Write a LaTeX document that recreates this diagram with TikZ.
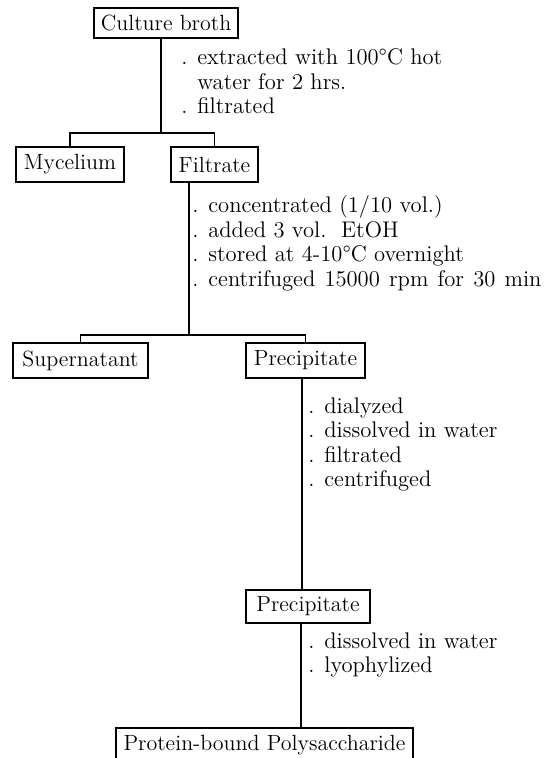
\documentclass[tikz,border=0pt]{standalone}
\usepackage{tikz}
\begin{document}
\begin{tikzpicture}[x=0.5pt,y=-0.5pt,
  stepbox/.style={draw, line width=0.6pt, inner sep=0pt, align=center, font=\fontsize{11}{13}\selectfont},
  note/.style={anchor=base west, align=left, inner sep=0pt, font=\fontsize{11.3}{12.25}\selectfont},
  conn/.style={line width=0.7pt}]
\useasboundingbox (0,0) rectangle (552,758);
% boxes
\node[stepbox, minimum width=72pt, minimum height=15pt] (cb) at (166,23) {Culture broth};
\node[stepbox, minimum width=54pt, minimum height=17.5pt] (myc) at (70,164.5) {Mycelium};
\node[stepbox, minimum width=43.5pt, minimum height=17.5pt] (fil) at (214.5,164.5) {Filtrate};
\node[stepbox, minimum width=67.5pt, minimum height=17.5pt] (sup) at (80.5,360.5) {Supernatant};
\node[stepbox, minimum width=59.5pt, minimum height=17.5pt] (pre1) at (305.5,360.5) {Precipitate};
\node[stepbox, minimum width=62pt, minimum height=16.5pt] (pre2) at (308,606.5) {Precipitate};
\node[stepbox, minimum width=148.5pt, minimum height=17pt] (pbp) at (264.5,745) {Protein-bound Polysaccharide};
% junctions
\coordinate (j1) at (161,133);
\coordinate (j2) at (189,335);
\coordinate (j3) at (302,590);
\coordinate (j4) at (301,728);
% connectors
\draw[conn] (cb.south -| j1) -- (j1);
\draw[conn] (myc.north) |- (j1) -| (fil.north);
\draw[conn] (fil.south -| j2) -- (j2);
\draw[conn] (sup.north) |- (j2) -| (pre1.north);
\draw[conn] (pre1.south -| j3) -- (j3);
\draw[conn] (pre2.south -| j4) -- (j4);
% notes (anchored at the baseline of the last line)
\node[note] (n1) at (181,114) {. extracted with 100\textdegree C hot\\\phantom{. }water for 2 hrs.\\. filtrated};
\node[note] (n2) at (192,286.5) {. concentrated (1/10 vol.)\\. added 3 vol.\ \ EtOH\\. stored at 4-10\textdegree C overnight\\. {\spaceskip=4.6pt plus 1pt\relax centrifuged 15000 rpm for 30 min}};
\node[note] (n3) at (308,486.5) {. dialyzed\\. dissolved in water\\. filtrated\\. centrifuged};
\node[note] (n4) at (308,672.5) {. dissolved in water\\. lyophylized};
\end{tikzpicture}
\end{document}
